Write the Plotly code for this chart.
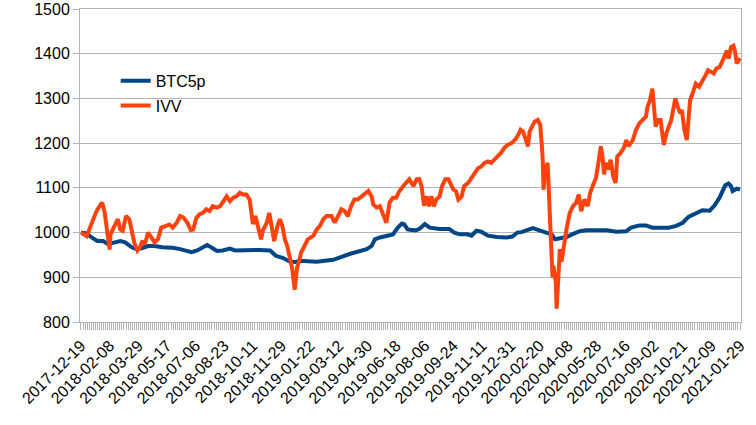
import plotly.graph_objects as go

# Category axis: trading-day index; labels every 35 trading days
tick_labels = ["2017-12-19", "2018-02-08", "2018-03-29", "2018-05-17", "2018-07-06",
               "2018-08-23", "2018-10-11", "2018-11-29", "2019-01-22", "2019-03-12",
               "2019-04-30", "2019-06-18", "2019-08-06", "2019-09-24", "2019-11-11",
               "2019-12-31", "2020-02-20", "2020-04-08", "2020-05-28", "2020-07-16",
               "2020-09-02", "2020-10-21", "2020-12-09", "2021-01-29"]
label_step = 35

# BTC5p series (trading-day index, value)
btc_idx = [0, 7, 13, 20, 27, 33, 39, 48, 54, 62, 68, 74, 82, 90, 99, 106, 112, 121, 129, 135,
           142, 149, 154, 160, 166, 173, 182, 188, 200, 218, 231, 233, 238, 247, 255, 262, 267,
           288, 308, 328, 340, 349, 355, 359, 365, 373, 381, 387, 392, 395, 399, 404, 409, 414,
           420, 426, 438, 450, 456, 463, 472, 477, 483, 489, 497, 508, 520, 527, 533, 538, 544,
           552, 560, 569, 575, 579, 587, 593, 600, 609, 617, 630, 642, 654, 666, 672, 682, 690,
           698, 707, 718, 727, 735, 742, 752, 759, 768, 774, 780, 784, 787, 791, 794, 796, 801, 805]
btc_val = [1000, 998, 989, 981, 981, 974, 977, 981, 978, 967, 963, 965, 970, 970, 967, 967, 966, 963, 959, 956,
           960, 967, 972, 966, 959, 960, 964, 960, 961, 961, 960, 957, 948, 943, 935, 934, 937,
           935, 939, 952, 959, 963, 970, 985, 989, 993, 996, 1011, 1020, 1018, 1007, 1006, 1005, 1009,
           1019, 1011, 1008, 1008, 1000, 996, 996, 993, 1004, 1002, 993, 990, 989, 991, 1000, 1001, 1004,
           1010, 1005, 1000, 996, 985, 988, 990, 996, 1003, 1005, 1006, 1005, 1002, 1003, 1011, 1016, 1016,
           1011, 1011, 1011, 1015, 1022, 1035, 1043, 1050, 1049, 1061, 1078, 1093, 1106, 1110, 1104, 1093, 1098, 1096]

# IVV series (trading-day index, value)
ivv_idx = [0, 7, 11, 15, 19, 24, 26, 29, 31, 35, 36, 39, 43, 45, 48, 51, 55, 59, 62, 65, 69, 72, 75, 78,
           82, 86, 90, 94, 98, 104, 108, 112, 117, 121, 125, 130, 134, 137, 141, 145, 149, 153, 157,
           161, 166, 170, 174, 178, 182, 186, 190, 194, 198, 202, 206, 208, 210, 213, 216, 220, 222,
           227, 230, 233, 236, 240, 243, 246, 249, 252, 255, 258, 261, 264, 267, 269, 273, 277, 284,
           288, 292, 296, 300, 306, 310, 314, 318, 322, 326, 330, 334, 338, 343, 347, 351, 355, 357,
           361, 365, 369, 373, 377, 381, 385, 389, 395, 401, 406, 410, 413, 416, 419, 422, 425, 428,
           431, 434, 438, 441, 445, 449, 452, 455, 458, 461, 465, 468, 473, 477, 481, 485, 489, 493,
           497, 501, 505, 509, 513, 517, 521, 526, 530, 534, 537, 540, 544, 546, 548, 551, 554, 558,
           561, 563, 564, 565, 567, 570, 571, 573, 574, 576, 577, 580, 581, 583, 585, 587, 589, 593,
           597, 601, 605, 608, 611, 615, 619, 622, 625, 629, 632, 635, 637, 639, 641, 644, 647, 650,
           653, 655, 659, 663, 666, 669, 674, 678, 682, 686, 690, 692, 695, 698, 700, 702, 705, 708,
           710, 712, 715, 718, 721, 724, 726, 729, 732, 734, 737, 740, 742, 744, 747, 751, 755, 759,
           763, 766, 770, 773, 776, 780, 783, 786, 789, 791, 794, 797, 799, 801, 805]
ivv_val = [1000, 992, 1011, 1030, 1048, 1063, 1067, 1044, 1018, 962, 996, 1007, 1018, 1030, 1007, 1004, 1037, 1030, 1004, 978, 960, 967, 981, 974,
           1000, 989, 978, 985, 1011, 1015, 1018, 1011, 1022, 1037, 1034, 1022, 1006, 1007, 1033, 1041, 1044, 1052, 1048,
           1059, 1056, 1059, 1070, 1081, 1070, 1078, 1081, 1089, 1085, 1085, 1074, 1044, 1019, 1037, 1015, 985, 1004,
           1022, 1044, 1011, 981, 1015, 1030, 1015, 985, 970, 948, 919, 872, 922, 940, 956, 970, 985, 993,
           1007, 1015, 1030, 1037, 1037, 1022, 1037, 1052, 1048, 1037, 1059, 1074, 1074, 1081, 1089, 1093, 1081, 1063,
           1056, 1059, 1041, 1022, 1067, 1078, 1078, 1093, 1107, 1119, 1104, 1119, 1120, 1104, 1060, 1081, 1059, 1081,
           1059, 1074, 1081, 1104, 1119, 1119, 1107, 1096, 1093, 1074, 1081, 1104, 1111, 1122, 1133, 1144, 1148, 1156,
           1159, 1156, 1163, 1170, 1178, 1189, 1196, 1200, 1207, 1218, 1230, 1226, 1200, 1193, 1226, 1237, 1248, 1252,
           1241, 1193, 1163, 1096, 1141, 1156, 1104, 1040, 970, 900, 926, 889, 830, 911, 963, 935, 963, 1007,
           1044, 1059, 1067, 1085, 1048, 1074, 1059, 1089, 1104, 1122, 1156, 1193, 1170, 1130, 1156, 1141, 1163, 1126,
           1111, 1170, 1178, 1189, 1207, 1193, 1207, 1230, 1244, 1252, 1259, 1281, 1296, 1322, 1289, 1237, 1252, 1252,
           1222, 1196, 1222, 1237, 1252, 1281, 1300, 1281, 1267, 1274, 1230, 1207, 1252, 1296, 1311, 1333, 1326, 1337,
           1352, 1363, 1359, 1356, 1367, 1370, 1381, 1396, 1407, 1389, 1415, 1418, 1404, 1378, 1390]

tick_vals = [i * label_step for i in range(len(tick_labels))]

FONT = "Liberation Sans, Arial, sans-serif"
GRID = "#b3b3b3"

fig = go.Figure()
fig.add_trace(go.Scatter(x=btc_idx, y=btc_val, mode="lines", name="BTC5p",
                         legendgroup="a", line=dict(color="#004586", width=4)))
fig.add_trace(go.Scatter(x=ivv_idx, y=ivv_val, mode="lines", name="IVV",
                         legendgroup="b", line=dict(color="#ff420e", width=4)))

fig.update_layout(
    width=756, height=425,
    margin=dict(l=80, r=15, t=9, b=103, autoexpand=False),
    paper_bgcolor="white", plot_bgcolor="white",
    font=dict(family=FONT, size=16, color="black"),
    showlegend=True,
    legend=dict(x=0.054, y=0.825, xanchor="left", yanchor="top",
                bgcolor="rgba(0,0,0,0)", font=dict(size=16), tracegroupgap=1),
    xaxis=dict(
        automargin=False,
        range=[-1.2, 806.2], tickmode="array", tickvals=tick_vals, ticktext=tick_labels,
        tickangle=-45, ticks="outside", ticklen=7, tickcolor=GRID, showgrid=False,
        showline=True, linecolor=GRID, mirror=True, zeroline=False,
        tickfont=dict(family=FONT, size=16, color="black"),
        minor=dict(ticks="outside", ticklen=7, dtick=2.5, tick0=0, tickcolor=GRID, showgrid=False),
    ),
    yaxis=dict(
        automargin=False,
        range=[800, 1500], dtick=100, tick0=800, ticks="outside", ticklen=6, tickcolor=GRID,
        showgrid=True, gridcolor=GRID, gridwidth=1, showline=True, linecolor=GRID,
        mirror=True, zeroline=False, tickfont=dict(family=FONT, size=16, color="black"),
    ),
)

# remove the browser's default 8px body margin so the figure sits at the page origin
fig.write_html("out.html", config={"displayModeBar": False},
               post_script="document.body.style.margin='0';")
